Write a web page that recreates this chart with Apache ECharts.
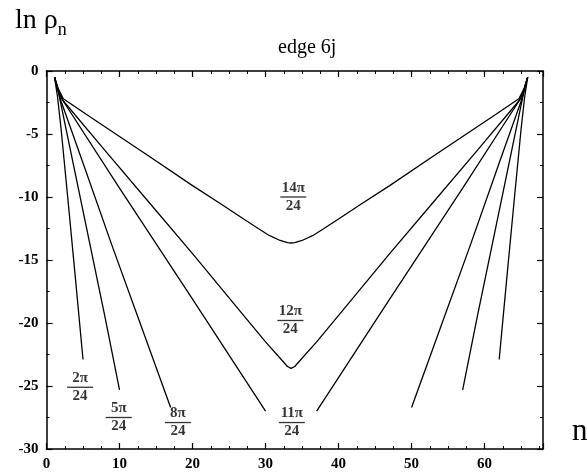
<!DOCTYPE html>
<html>
<head>
<meta charset="utf-8">
<script src="https://cdn.jsdelivr.net/npm/echarts@6/dist/echarts.min.js"></script>
<style>html,body{margin:0;padding:0;background:#fff}#c{width:587px;height:472px}</style>
</head>
<body>
<div id="c"></div>
<script>
// ---- data (n, ln rho_n) ----
const xTicks = [0, 10, 20, 30, 40, 50, 60];
const yTicks = [0, -5, -10, -15, -20, -25, -30];

const c2L = [[1.1,-0.5],[1.5,-2.0],[2,-4.6],[3,-10.6],[4,-16.7],[5,-22.9]];
const c2R = [[65.9,-0.5],[65.5,-2.0],[65,-4.6],[64,-10.6],[63,-16.7],[62,-22.9]];
const c5L = [[1.1,-0.5],[1.6,-1.6],[2,-2.7],[4,-8.3],[6,-13.9],[8,-19.5],[10,-25.3]];
const c5R = [[65.9,-0.5],[65.4,-1.6],[65,-2.7],[63,-8.3],[61,-13.9],[59,-19.5],[57,-25.3]];
const c8L = [[1.1,-0.5],[1.6,-1.6],[2,-2.4],[5,-7.3],[9,-13.9],[13,-20.3],[17,-26.7]];
const c8R = [[65.9,-0.5],[65.4,-1.6],[65,-2.4],[62,-7.3],[58,-13.9],[54,-20.3],[50,-26.7]];
const c11L = [[1.1,-0.5],[1.6,-1.5],[2.2,-2.3],[10,-9.3],[20,-18.1],[30,-27.0]];
const c11R = [[65.9,-0.5],[65.4,-1.5],[64.8,-2.3],[57,-9.3],[47,-18.1],[37,-27.0]];
const c12 = [[1.1,-0.5],[1.6,-1.5],[2.2,-2.3],[8,-6.3],[14,-10.4],[20,-14.5],[26,-18.7],[30,-21.5],[32,-22.8],[33,-23.45],[33.5,-23.6],
             [34,-23.45],[35,-22.8],[37,-21.5],[41,-18.7],[47,-14.5],[53,-10.4],[59,-6.3],[64.8,-2.3],[65.4,-1.5],[65.9,-0.5]];
const c14 = [[1.1,-0.5],[1.6,-1.4],[2.3,-2.2],[6,-3.65],[10,-5.2],[14,-6.75],[20,-9.1],[24,-10.6],[27,-11.75],[29,-12.5],[30.5,-13.05],[32,-13.45],[33,-13.62],[33.5,-13.65],
             [34,-13.62],[35,-13.45],[36.5,-13.05],[38,-12.5],[40,-11.75],[43,-10.6],[47,-9.1],[53,-6.75],[57,-5.2],[61,-3.65],[64.7,-2.2],[65.4,-1.4],[65.9,-0.5]];

const curveLabels = ['2π','5π','8π','11π','12π','14π'];
const labelPos = [[4.6,-25.1],[9.9,-27.5],[18.0,-27.9],[33.6,-27.9],[33.4,-19.8],[33.8,-10.0]];
const denominator = '24';

const curves = [c2L,c2R,c5L,c5R,c8L,c8R,c11L,c11R,c12,c14];

const serif = '"Liberation Serif","DejaVu Serif",serif';
const chart = echarts.init(document.getElementById('c'), null, {renderer:'canvas'});

const lineSeries = curves.map(d => ({
  type:'line', data:d, showSymbol:false, symbol:'none', smooth:false,
  lineStyle:{color:'#000', width:1.3}, silent:true, animation:false, z:2
}));

const labelSeries = {
  type:'scatter', symbolSize:0, silent:true, animation:false, z:3,
  data: curveLabels.map((t,i)=>({name:t, value:labelPos[i]})),
  label:{
    show:true, position:'inside', color:'#000',
    formatter: p => '{a|' + p.name + '}\n{l| }\n{b|' + denominator + '}',
    rich:{
      a:{fontFamily:serif, fontSize:15, fontWeight:'bold', color:'#000', lineHeight:15, align:'center'},
      l:{width:26, height:1.3, lineHeight:3, backgroundColor:'#000', fontSize:1, align:'center'},
      b:{fontFamily:serif, fontSize:15, fontWeight:'bold', color:'#000', lineHeight:15, align:'center'}
    }
  }
};

const axisCommon = {
  axisLine:{show:true, onZero:false, lineStyle:{color:'#000', width:1.5}},
  axisTick:{show:true, inside:true, length:6, lineStyle:{color:'#000', width:1.2}},
  splitLine:{show:false}, minorSplitLine:{show:false}
};
const xMinor = {show:true, splitNumber:4, length:3, lineStyle:{color:'#000', width:1}};
const yMinor = {show:true, splitNumber:2, length:3, lineStyle:{color:'#000', width:1}};

chart.setOption({
  animation:false,
  backgroundColor:'#fff',
  title:[
    {text:'edge 6j', left:273, top:33,
     textStyle:{fontFamily:serif, fontSize:20, fontWeight:'normal', color:'#000'}},
    {text:'{a|ln ρ}{b|n}', left:10, top:2,
     textStyle:{fontWeight:'normal', rich:{
       a:{fontFamily:serif, fontSize:28, fontWeight:'normal', color:'#000', verticalAlign:'bottom'},
       b:{fontFamily:serif, fontSize:18, fontWeight:'normal', color:'#000', verticalAlign:'bottom', padding:[0,0,-4,0]}
     }}},
    {text:'n', left:567, top:411,
     textStyle:{fontFamily:serif, fontSize:31, fontWeight:'normal', color:'#000'}}
  ],
  grid:{left:46.5, right:44, top:71, bottom:23, containLabel:false},
  xAxis:[
    Object.assign({type:'value', min:0, max:68, interval:10, position:'bottom',
      axisLabel:{show:true, margin:8, color:'#000', fontFamily:serif, fontSize:15, fontWeight:'bold',
        formatter: v => xTicks.indexOf(v) >= 0 ? String(v) : ''}}, axisCommon, {minorTick:xMinor}),
    Object.assign({type:'value', min:0, max:68, interval:10, position:'top', axisLabel:{show:false}}, axisCommon, {minorTick:xMinor})
  ],
  yAxis:[
    Object.assign({type:'value', min:-30, max:0, interval:5, position:'left',
      axisLabel:{show:true, margin:8, color:'#000', fontFamily:serif, fontSize:15, fontWeight:'bold',
        formatter: v => yTicks.indexOf(v) >= 0 ? String(v) : ''}}, axisCommon, {minorTick:yMinor}),
    Object.assign({type:'value', min:-30, max:0, interval:5, position:'right', axisLabel:{show:false}}, axisCommon, {minorTick:yMinor})
  ],
  series: lineSeries.concat([labelSeries])
});
</script>
</body>
</html>
